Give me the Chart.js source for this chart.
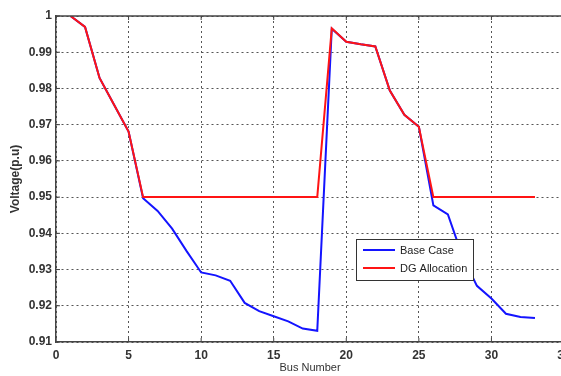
<!DOCTYPE html>
<html>
<head>
<meta charset="utf-8">
<script src="https://cdn.jsdelivr.net/npm/chart.js@4"></script>
<style>
  html, body { margin: 0; padding: 0; background: #fff; overflow: hidden; }
  canvas { display: block; }
</style>
</head>
<body>
<canvas id="myChart" width="580" height="376"></canvas>
<script>
const buses = [1, 2, 3, 4, 5, 6, 7, 8, 9, 10, 11, 12, 13, 14, 15, 16, 17,
    18, 19, 20, 21, 22, 23, 24, 25, 26, 27, 28, 29, 30, 31, 32, 33];

const baseCase = [1.0000, 0.9970, 0.9829, 0.9755, 0.9681, 0.9497, 0.9462, 0.9413,
    0.9351, 0.9292, 0.9284, 0.9269, 0.9208, 0.9185, 0.9171, 0.9157, 0.9137,
    0.9131, 0.9965, 0.9929, 0.9922, 0.9916, 0.9794, 0.9727, 0.9694, 0.9477,
    0.9452, 0.9337, 0.9255, 0.9220, 0.9178, 0.9169, 0.9166];

const dgAllocation = [1.0000, 0.9970, 0.9829, 0.9755, 0.9681, 0.9500, 0.9500, 0.9500,
    0.9500, 0.9500, 0.9500, 0.9500, 0.9500, 0.9500, 0.9500, 0.9500, 0.9500,
    0.9500, 0.9966, 0.9929, 0.9922, 0.9916, 0.9794, 0.9727, 0.9694, 0.9500,
    0.9500, 0.9500, 0.9500, 0.9500, 0.9500, 0.9500, 0.9500];

const xTicks = [0, 5, 10, 15, 20, 25, 30, 35];
const yTicks = [0.91, 0.92, 0.93, 0.94, 0.95, 0.96, 0.97, 0.98, 0.99, 1];

const axisColor = '#444';
const tickFont = { family: "'Liberation Sans', Arial, sans-serif", size: 12, weight: 'bold' };

// top frame line, small inward ticks and the legend box inside the plot
const framePlugin = {
    id: 'frame',
    afterDatasetsDraw(chart) {
        const c = chart.ctx;
        const a = chart.chartArea;
        const xs = chart.scales.x;
        const ys = chart.scales.y;
        c.save();
        c.strokeStyle = axisColor;
        c.lineWidth = 1.5;
        c.beginPath();
        c.moveTo(a.left, a.top);
        c.lineTo(a.right, a.top);
        c.stroke();

        c.lineWidth = 1;
        c.beginPath();
        xTicks.forEach(v => {
            const px = xs.getPixelForValue(v);
            c.moveTo(px, a.bottom);
            c.lineTo(px, a.bottom - 4);
            c.moveTo(px, a.top);
            c.lineTo(px, a.top + 4);
        });
        yTicks.forEach(v => {
            const py = ys.getPixelForValue(v);
            c.moveTo(a.left, py);
            c.lineTo(a.left + 4, py);
        });
        c.stroke();

        // legend
        const lx = 356, ly = 239, lw = 117, lh = 41;
        c.fillStyle = '#fff';
        c.fillRect(lx, ly, lw, lh);
        c.strokeStyle = '#333';
        c.lineWidth = 1;
        c.strokeRect(lx + 0.5, ly + 0.5, lw, lh);
        c.font = "11px 'Liberation Sans', Arial, sans-serif";
        c.textBaseline = 'middle';
        c.textAlign = 'left';
        chart.data.datasets.forEach((ds, i) => {
            const y = ly + 11 + i * 18;
            c.strokeStyle = ds.borderColor;
            c.lineWidth = 2;
            c.beginPath();
            c.moveTo(lx + 7, y);
            c.lineTo(lx + 39, y);
            c.stroke();
            c.fillStyle = '#222';
            c.fillText(ds.label, lx + 44, y + 1);
        });
        c.restore();
    }
};

new Chart(document.getElementById('myChart'), {
    type: 'line',
    data: {
        datasets: [{
            label: 'Base Case',
            data: buses.map((b, i) => ({ x: b, y: baseCase[i] })),
            borderColor: '#1414ff',
            borderWidth: 2,
            pointRadius: 0,
            order: 1
        }, {
            label: 'DG Allocation',
            data: buses.map((b, i) => ({ x: b, y: dgAllocation[i] })),
            borderColor: '#ff1414',
            borderWidth: 2,
            pointRadius: 0,
            order: 0
        }]
    },
    options: {
        responsive: false,
        animation: false,
        layout: { padding: { top: 16, right: 16, left: 0, bottom: 0 } },
        plugins: {
            legend: { display: false },
            tooltip: { enabled: false }
        },
        scales: {
            x: {
                type: 'linear',
                min: 0,
                max: 35,
                afterFit: s => { s.height = 34; },
                afterBuildTicks: s => { s.ticks = xTicks.map(v => ({ value: v })); },
                grid: { color: '#555', lineWidth: 1, drawTicks: false },
                border: { color: axisColor, width: 1.5, dash: [2, 3] },
                ticks: { color: '#333', font: tickFont, padding: 6, maxRotation: 0 },
                title: {
                    display: true,
                    text: 'Bus Number',
                    color: '#333',
                    font: { family: "'Liberation Sans', Arial, sans-serif", size: 11 },
                    padding: { top: 0, bottom: 1.5 }
                }
            },
            y: {
                min: 0.91,
                max: 1,
                afterFit: s => { s.width = 56; },
                afterBuildTicks: s => { s.ticks = yTicks.map(v => ({ value: v })); },
                grid: { color: '#555', lineWidth: 1, drawTicks: false },
                border: { color: axisColor, width: 1.5, dash: [2, 3] },
                ticks: {
                    color: '#333',
                    font: tickFont,
                    padding: 4,
                    callback: v => String(Math.round(v * 100) / 100)
                },
                title: {
                    display: true,
                    text: 'Voltage(p.u)',
                    color: '#333',
                    font: { family: "'Liberation Sans', Arial, sans-serif", size: 12, weight: 'bold' },
                    padding: { top: 8, bottom: 0 }
                }
            }
        }
    },
    plugins: [framePlugin]
});
</script>
</body>
</html>
